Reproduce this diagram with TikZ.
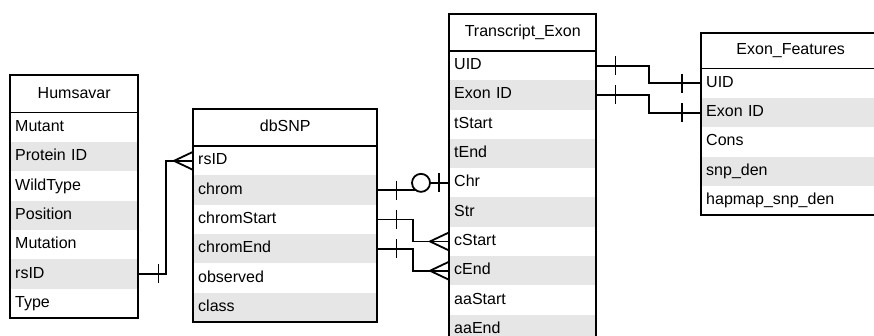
\documentclass[tikz,border=0pt]{standalone}
\usepackage{fontspec}
\setmainfont{Liberation Sans}
\usetikzlibrary{calc}
\definecolor{rowgray}{HTML}{E6E6E6}
\tikzset{
  hdr/.style={draw=none, inner sep=0pt, font=\fontsize{16}{19}\selectfont, text height=11.5pt, text depth=3.4pt, align=center},
  rowbox/.style={draw=none, inner xsep=5pt, inner ysep=0pt, minimum height=29.3pt, font=\fontsize{16}{19}\selectfont, text height=11.5pt, text depth=3.4pt, align=left},
  border/.style={draw=black, line width=1.8pt},
  conn/.style={draw=black, line width=1.8pt, line join=miter},
}
\newcommand\ertab[8]{%
  \pgfmathsetmacro\ertW{#3-#2}%
  \pgfmathsetmacro\ertTW{#3-#2-10}%
  \pgfmathsetmacro\ertHH{#5-#4}%
  \node[hdr, minimum width=\ertW pt, minimum height=\ertHH pt, anchor=north west] (#1-h) at (#2,#4) {#6};%
  \foreach \rowtxt [count=\i from 0] in {#7} {%
    \pgfmathsetmacro\ertY{#5+\i*29.3}%
    \pgfmathtruncatemacro\rowpar{mod(\i,2)}%
    \ifnum\rowpar=1 \def\rowfill{rowgray}\else\def\rowfill{white}\fi
    \node[rowbox, fill=\rowfill, text width=\ertTW pt, anchor=north west] (#1-\i) at (#2,\ertY) {\rowtxt};%
  }%
  \pgfmathsetmacro\ertB{#5+#8*29.3}%
  \draw[border] (#2,#4) rectangle (#3,\ertB);%
  \draw[border] (#2,#5) -- (#3,#5);%
}
\newcommand\ertick[2]{\draw[conn] ($(#1)+(#2,-9.5)$) -- ($(#1)+(#2,9.5)$);}
\newcommand\ercrow[1]{\draw[conn] ($(#1)+(0,-9)$) -- ($(#1)+(-19,0)$) -- ($(#1)+(0,9)$);}
\begin{document}
\begin{tikzpicture}[x=1pt, y=-1pt]
  \useasboundingbox (0,0) rectangle (874,336);
  \clip (0,0) rectangle (874,336);
  \fill[white] (0,0) rectangle (874,336);

  \ertab{hum}{10}{138}{75}{112.6}{Humsavar}{Mutant,Protein ID,WildType,Position,Mutation,rsID,Type}{7}
  \ertab{snp}{193}{377}{109}{146}{dbSNP}{rsID,chrom,chromStart,chromEnd,observed,class}{6}
  \ertab{tr}{449}{596}{14}{50.8}{Transcript\_Exon}{UID,Exon ID,tStart,tEnd,Chr,Str,cStart,cEnd,aaStart,aaEnd}{10}
  \ertab{ef}{701}{880}{33}{68.5}{Exon\_Features}{UID,Exon ID,Cons,snp\_den,hapmap\_snp\_den}{5}

  \coordinate (v1) at (166,0);
  \coordinate (v2) at (418,0);
  \coordinate (v3) at (413,0);
  \coordinate (v4) at (649,0);

  % Humsavar rsID -> dbSNP rsID
  \draw[conn] (hum-5.east) -- (hum-5.east -| v1) |- (snp-0.west);
  \ertick{hum-5.east}{20}
  \ercrow{snp-0.west}

  % dbSNP chrom -> Transcript Chr
  \draw[conn] (snp-1.east) -- (snp-1.east -| v2) -- (v2 |- tr-4.west) -- (tr-4.west);
  \ertick{snp-1.east}{19}
  \draw[conn, fill=white] ($(tr-4.west)+(-28,0)$) circle (9pt);
  \ertick{tr-4.west}{-10}

  % chromStart -> cStart
  \draw[conn] (snp-2.east) -- (snp-2.east -| v3) |- (tr-6.west);
  \ertick{snp-2.east}{19}
  \ercrow{tr-6.west}

  % chromEnd -> cEnd
  \draw[conn] (snp-3.east) -- (snp-3.east -| v3) |- (tr-7.west);
  \ertick{snp-3.east}{19}
  \ercrow{tr-7.west}

  % Transcript UID -> Exon_Features UID
  \draw[conn] (tr-0.east) -- (tr-0.east -| v4) |- (ef-0.west);
  \ertick{tr-0.east}{19}
  \ertick{ef-0.west}{-19}

  % Transcript Exon ID -> Exon_Features Exon ID
  \draw[conn] (tr-1.east) -- (tr-1.east -| v4) |- (ef-1.west);
  \ertick{tr-1.east}{19}
  \ertick{ef-1.west}{-19}
\end{tikzpicture}
\end{document}
